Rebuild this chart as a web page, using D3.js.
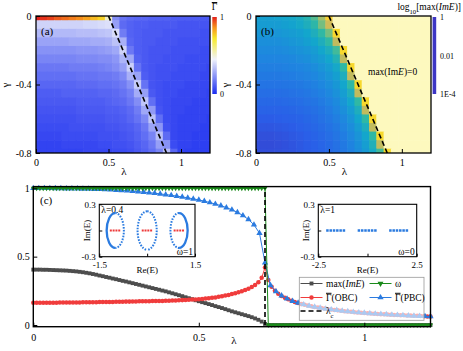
<!DOCTYPE html>
<html lang="en">
<head>
<meta charset="UTF-8" />
<title>Phase diagram and spectra</title>
<style>
  body { margin: 0; background: #fff; }
  svg { display: block; font-family: 'Liberation Serif', 'Times New Roman', 'DejaVu Serif', serif; }
</style>
</head>
<body>
<svg id="svg" width="463" height="351"></svg>
<script src="https://d3js.org/d3.v7.min.js"></script>
<script>
// ---- heatmap grid (panels a, b) ----
const lambdaCols = [0,0.05,0.1,0.15,0.2,0.25,0.3,0.35,0.4,0.45,0.5,0.55,0.6,0.65,0.7,0.75,0.8,0.85,0.9,0.95,1,1.05,1.1,1.15,1.2];
const gammaRows = [0,-0.05,-0.1,-0.15,-0.2,-0.25,-0.3,-0.35,-0.4,-0.45,-0.5,-0.55,-0.6,-0.65,-0.7,-0.75,-0.8];

// mean Gamma, one row per gamma value
const gammaBar = [
  [1.00,0.98,0.96,0.93,0.91,0.89,0.87,0.84,0.80,0.76,0.52,0.22,0.16,0.14,0.13,0.13,0.12,0.12,0.12,0.11,0.11,0.11,0.11,0.10,0.10],
  [0.38,0.38,0.38,0.38,0.38,0.38,0.38,0.39,0.39,0.40,0.41,0.26,0.14,0.12,0.11,0.11,0.10,0.10,0.10,0.10,0.09,0.09,0.09,0.09,0.09],
  [0.32,0.32,0.32,0.32,0.32,0.32,0.33,0.33,0.33,0.34,0.35,0.40,0.18,0.12,0.11,0.10,0.10,0.10,0.09,0.09,0.09,0.09,0.09,0.08,0.08],
  [0.27,0.27,0.27,0.27,0.27,0.28,0.28,0.28,0.29,0.29,0.30,0.34,0.30,0.13,0.11,0.10,0.10,0.09,0.09,0.09,0.08,0.08,0.08,0.08,0.08],
  [0.23,0.23,0.23,0.23,0.23,0.23,0.24,0.24,0.24,0.25,0.26,0.28,0.38,0.17,0.11,0.10,0.09,0.09,0.09,0.08,0.08,0.08,0.08,0.07,0.07],
  [0.20,0.20,0.20,0.20,0.20,0.20,0.21,0.21,0.21,0.22,0.22,0.24,0.31,0.28,0.12,0.10,0.09,0.09,0.08,0.08,0.08,0.07,0.07,0.07,0.07],
  [0.17,0.17,0.17,0.17,0.17,0.18,0.18,0.18,0.18,0.19,0.20,0.22,0.26,0.37,0.16,0.10,0.09,0.08,0.08,0.08,0.07,0.07,0.07,0.07,0.06],
  [0.15,0.15,0.15,0.15,0.15,0.15,0.16,0.16,0.16,0.17,0.17,0.18,0.21,0.30,0.27,0.11,0.09,0.08,0.08,0.07,0.07,0.07,0.07,0.06,0.06],
  [0.13,0.13,0.13,0.13,0.13,0.13,0.14,0.14,0.14,0.15,0.15,0.16,0.18,0.23,0.36,0.16,0.09,0.08,0.07,0.07,0.07,0.06,0.06,0.06,0.06],
  [0.11,0.11,0.11,0.11,0.12,0.12,0.12,0.12,0.12,0.13,0.13,0.14,0.16,0.19,0.29,0.26,0.10,0.08,0.07,0.07,0.06,0.06,0.06,0.06,0.05],
  [0.10,0.10,0.10,0.10,0.10,0.10,0.11,0.11,0.11,0.11,0.12,0.13,0.14,0.17,0.22,0.35,0.15,0.08,0.07,0.06,0.06,0.06,0.05,0.05,0.05],
  [0.09,0.09,0.09,0.09,0.09,0.09,0.10,0.10,0.10,0.10,0.11,0.11,0.12,0.14,0.18,0.28,0.25,0.09,0.07,0.06,0.06,0.05,0.05,0.05,0.05],
  [0.08,0.08,0.08,0.08,0.08,0.08,0.09,0.09,0.09,0.09,0.10,0.10,0.11,0.13,0.16,0.21,0.34,0.15,0.07,0.06,0.05,0.05,0.05,0.05,0.04],
  [0.07,0.07,0.07,0.07,0.07,0.08,0.08,0.08,0.08,0.08,0.09,0.09,0.10,0.11,0.13,0.17,0.27,0.24,0.08,0.06,0.05,0.05,0.05,0.04,0.04],
  [0.06,0.06,0.06,0.06,0.07,0.07,0.07,0.07,0.07,0.08,0.08,0.08,0.09,0.10,0.12,0.15,0.20,0.33,0.14,0.06,0.05,0.05,0.04,0.04,0.04],
  [0.05,0.05,0.05,0.05,0.06,0.06,0.06,0.06,0.06,0.07,0.07,0.08,0.08,0.09,0.11,0.13,0.17,0.26,0.23,0.07,0.05,0.05,0.04,0.04,0.04],
  [0.05,0.05,0.05,0.05,0.05,0.05,0.05,0.06,0.06,0.06,0.06,0.07,0.07,0.08,0.10,0.12,0.15,0.20,0.33,0.13,0.05,0.04,0.04,0.04,0.04]
];

// log10 max(Im E); cells past the end of a row have max(Im E) = 0
const logMaxImE = [
  [-1.4,-1.4,-1.4,-1.45,-1.5,-1.55,-1.65,-1.85,-2.2,-2.7,-3.6],
  [-1.35,-1.35,-1.35,-1.35,-1.4,-1.45,-1.55,-1.7,-1.95,-2.4,-3.0],
  [-1.25,-1.25,-1.25,-1.25,-1.3,-1.35,-1.4,-1.5,-1.7,-2.0,-2.4,-3.7],
  [-1.15,-1.15,-1.15,-1.15,-1.2,-1.25,-1.3,-1.4,-1.5,-1.7,-2.0,-2.9],
  [-1.08,-1.08,-1.08,-1.08,-1.1,-1.15,-1.2,-1.25,-1.35,-1.5,-1.7,-2.1,-3.7],
  [-1.0,-1.0,-1.0,-1.0,-1.02,-1.05,-1.1,-1.15,-1.25,-1.35,-1.5,-1.8,-2.9],
  [-0.92,-0.92,-0.92,-0.92,-0.95,-0.98,-1.0,-1.05,-1.12,-1.22,-1.35,-1.55,-2.0,-3.7],
  [-0.85,-0.85,-0.85,-0.85,-0.87,-0.9,-0.93,-0.97,-1.03,-1.12,-1.24,-1.4,-1.7,-2.9],
  [-0.78,-0.78,-0.78,-0.78,-0.8,-0.82,-0.85,-0.9,-0.95,-1.03,-1.13,-1.28,-1.5,-2.0,-3.7],
  [-0.7,-0.7,-0.7,-0.7,-0.72,-0.75,-0.78,-0.82,-0.88,-0.95,-1.05,-1.18,-1.38,-1.7,-2.9],
  [-0.63,-0.63,-0.63,-0.63,-0.65,-0.68,-0.7,-0.75,-0.8,-0.87,-0.96,-1.08,-1.25,-1.5,-2.0,-3.7],
  [-0.56,-0.56,-0.56,-0.56,-0.58,-0.6,-0.64,-0.68,-0.73,-0.8,-0.88,-1.0,-1.15,-1.35,-1.7,-2.9],
  [-0.48,-0.48,-0.48,-0.5,-0.52,-0.54,-0.57,-0.62,-0.67,-0.74,-0.82,-0.92,-1.05,-1.22,-1.5,-2.0,-3.7],
  [-0.4,-0.4,-0.4,-0.42,-0.45,-0.48,-0.52,-0.56,-0.62,-0.68,-0.76,-0.85,-0.97,-1.12,-1.35,-1.7,-2.9],
  [-0.33,-0.32,-0.32,-0.35,-0.38,-0.42,-0.46,-0.51,-0.57,-0.63,-0.7,-0.79,-0.9,-1.04,-1.22,-1.5,-2.0,-3.7],
  [-0.3,-0.28,-0.28,-0.3,-0.33,-0.37,-0.42,-0.47,-0.53,-0.59,-0.66,-0.74,-0.85,-0.98,-1.15,-1.38,-1.75,-2.9],
  [-0.32,-0.3,-0.3,-0.32,-0.35,-0.38,-0.42,-0.47,-0.52,-0.58,-0.65,-0.73,-0.83,-0.95,-1.1,-1.3,-1.6,-2.1,-3.7]
];

// critical line lambda_c(gamma)
const critLambda = [0.5, 0.9];
const critGamma = [0, -0.8];

// ---- panel c ----
const lambdaFine = d3.range(121).map(k => k / 100);
const maxImE = [
  0.405,0.405,0.405,0.404,0.404,0.403,0.402,0.401,0.400,0.399,
  0.398,0.396,0.394,0.392,0.389,0.386,0.382,0.378,0.373,0.368,
  0.362,0.357,0.351,0.346,0.340,0.335,0.329,0.323,0.318,0.312,
  0.306,0.300,0.294,0.288,0.282,0.276,0.270,0.264,0.258,0.252,
  0.246,0.239,0.232,0.225,0.218,0.211,0.203,0.196,0.189,0.181,
  0.174,0.167,0.160,0.153,0.146,0.138,0.131,0.124,0.116,0.108,
  0.100,0.093,0.086,0.079,0.072,0.065,0.057,0.048,0.038,0.025,
  0.008,
  0,0,0,0,0,0,0,0,0,0, 0,0,0,0,0,0,0,0,0,0, 0,0,0,0,0,0,0,0,0,0,
  0,0,0,0,0,0,0,0,0,0, 0,0,0,0,0,0,0,0,0,0
];
const gammaOBC = [
  0.163,0.163,0.163,0.163,0.163,0.163,0.163,0.163,0.164,0.164,
  0.164,0.164,0.165,0.165,0.165,0.166,0.166,0.166,0.167,0.167,
  0.168,0.168,0.168,0.169,0.169,0.170,0.170,0.170,0.171,0.171,
  0.172,0.172,0.173,0.173,0.174,0.174,0.175,0.175,0.176,0.176,
  0.177,0.178,0.179,0.180,0.181,0.182,0.183,0.184,0.186,0.187,
  0.189,0.191,0.193,0.196,0.199,0.202,0.206,0.210,0.215,0.220,
  0.226,0.232,0.239,0.247,0.256,0.266,0.278,0.293,0.312,0.345,
  0.420,
  0.330,0.280,0.250,0.228,0.213,0.200,0.188,0.178,0.169,0.161,
  0.154,0.148,0.142,0.137,0.132,0.128,0.124,0.120,0.116,0.113,
  0.110,0.107,0.104,0.101,0.099,0.097,0.094,0.092,0.090,0.088,
  0.086,0.084,0.083,0.081,0.079,0.078,0.077,0.075,0.074,0.073,
  0.072,0.071,0.070,0.069,0.068,0.067,0.066,0.064,0.063,0.062
];
const omega = [
  1,1,1,1,1,1,1,1,1,1, 1,1,1,1,1,1,1,1,1,1, 1,1,1,1,1,1,1,1,1,1,
  1,1,1,1,1,1,1,1,1,1, 1,1,1,1,1,1,1,1,1,1, 1,1,1,1,1,1,1,1,1,1,
  1,1,1,1,1,1,1,1,1,1, 1,
  0,0,0,0,0,0,0,0,0,0, 0,0,0,0,0,0,0,0,0,0, 0,0,0,0,0,0,0,0,0,0,
  0,0,0,0,0,0,0,0,0,0, 0,0,0,0,0,0,0,0,0,0
];
const lambdaPBC = d3.range(73).map(k => k / 60);
const gammaPBC = [
  1.000,1.000,1.000,1.000,0.999,0.999,0.998,0.998,0.997,0.996,
  0.995,0.994,0.993,0.991,0.989,0.987,0.985,0.982,0.979,0.976,
  0.972,0.968,0.964,0.959,0.954,0.949,0.943,0.937,0.930,0.923,
  0.915,0.906,0.896,0.885,0.873,0.859,0.843,0.824,0.801,0.772,
  0.733,0.672,0.455,0.290,0.245,0.215,0.192,0.175,0.161,0.150,
  0.140,0.132,0.125,0.118,0.113,0.108,0.103,0.099,0.095,0.091,
  0.088,0.085,0.082,0.080,0.077,0.075,0.073,0.071,0.069,0.067,
  0.065,0.064,0.062
];
const lambdaC = 0.7;

// insets: spectra in the complex plane
const loopCenters = [-1, 0, 1];
const loopRe = [0.27, 0.3, 0.27];
const loopIm = [0.2, 0.22, 0.2];
const obcHalfWidth = 0.17;
const bandLow = [-2.1, -0.5, 1.1];
const bandHigh = [-1.1, 0.5, 2.1];

const svg = d3.select('#svg');
const FONT = "'Liberation Serif', 'Times New Roman', 'DejaVu Serif', serif";

function styleAxis(g, fs) {
  g.attr('font-family', FONT).attr('font-size', fs);
  g.select('.domain').remove();
  g.selectAll('line').attr('stroke', '#000').attr('stroke-width', 1);
  g.selectAll('text').attr('fill', '#000');
}

function addText(parent, x, y, parts, opts = {}) {
  const t = parent.append('text').attr('x', x).attr('y', y)
    .attr('font-size', opts.size || 10).attr('font-family', FONT)
    .attr('text-anchor', opts.anchor || 'start');
  if (opts.rotate) t.attr('transform', `rotate(${opts.rotate},${x},${y})`);
  parts.forEach(p => {
    if (typeof p === 'string') { t.append('tspan').text(p); return; }
    const s = t.append('tspan').text(p.t);
    if (p.it) s.attr('font-style', 'italic');
    if (p.sub) s.attr('baseline-shift', 'sub').attr('font-size', (opts.size || 10) * 0.7);
    if (p.bar) s.attr('text-decoration', 'overline');
  });
  return t;
}

// ---- colour scales ----
const colorA = d3.scaleLinear()
  .domain([0, 0.45, 0.72, 0.86, 1])
  .range(['#1a2df0', '#f0f2fb', '#f7ea2a', '#f7961c', '#e2211c']);
const parula = ['#3d36c4','#2a5ee8','#1f85e0','#13a6cc','#30b8a4','#86c077','#d0ba58','#f8c83a','#f6f01a'];
const colorB = d3.scaleLinear().domain(d3.range(9).map(i => -i * 0.5)).range(parula);
const zeroColor = '#fdf9be';

const defs = svg.append('defs');

function heatPanel(x0, x1, id, fillFor, label) {
  const x = d3.scaleLinear().domain([0, 1.2]).range([x0, x1]);
  const y = d3.scaleLinear().domain([-0.8, 0]).range([153, 16]);
  defs.append('clipPath').attr('id', id).append('rect')
    .attr('x', x(0)).attr('y', y(0)).attr('width', x(1.2) - x(0)).attr('height', y(-0.8) - y(0));
  const g = svg.append('g');
  const cells = [];
  gammaRows.forEach((gm, i) => lambdaCols.forEach((lm, j) => cells.push({ i, j, lm, gm })));
  g.append('g').attr('clip-path', `url(#${id})`)
    .selectAll('rect').data(cells).join('rect')
    .attr('x', d => x(d.lm - 0.025))
    .attr('y', d => y(d.gm + 0.025))
    .attr('width', x(0.05) - x(0) + 0.6)
    .attr('height', y(-0.05) - y(0) + 0.6)
    .attr('fill', d => fillFor(d.i, d.j));
  // critical line
  g.append('path')
    .attr('d', d3.line().x((d, k) => x(critLambda[k])).y(d => y(d))(critGamma))
    .attr('stroke', '#000').attr('stroke-width', 1.6).attr('stroke-dasharray', '5,3').attr('fill', 'none');
  g.append('rect').attr('x', x(0)).attr('y', y(0)).attr('width', x(1.2) - x(0)).attr('height', y(-0.8) - y(0))
    .attr('fill', 'none').attr('stroke', '#000').attr('stroke-width', 1.3);
  const ax = g.append('g').attr('transform', `translate(0,${y(-0.8)})`)
    .call(d3.axisBottom(x).tickValues([0, 0.5, 1]).tickSize(-4).tickPadding(6).tickFormat(d => String(d)));
  styleAxis(ax, 10);
  const ay = g.append('g').attr('transform', `translate(${x(0)},0)`)
    .call(d3.axisLeft(y).tickValues([0, -0.4, -0.8]).tickSize(-4).tickPadding(4.5).tickFormat(d => String(d)));
  styleAxis(ay, 10);
  addText(g, x(0) + 5, 35, [label], { size: 11 });
  addText(g, (x0 + x1) / 2 + 1, 175, ['λ'], { size: 11, anchor: 'middle' });
  addText(g, x0 - 27, 85, ['γ'], { size: 11, anchor: 'middle', rotate: -90 });
  return { x, y, g };
}

heatPanel(36, 210, 'clipA', (i, j) => colorA(gammaBar[i][j]), '(a)');
heatPanel(256, 431, 'clipB', (i, j) => {
  const v = logMaxImE[i][j];
  return v === undefined ? zeroColor : colorB(v);
}, '(b)');
addText(svg, 368, 75, ['max(Im', { t: 'E', it: true }, ')=0'], { size: 9.5 });

// colourbar (a)
const gradA = defs.append('linearGradient').attr('id', 'gradA').attr('x1', 0).attr('y1', 1).attr('x2', 0).attr('y2', 0);
colorA.domain().forEach(v => gradA.append('stop').attr('offset', v).attr('stop-color', colorA(v)));
const cbA = d3.scaleLinear().domain([0, 1]).range([94, 17]);
svg.append('rect').attr('x', 212.3).attr('y', cbA(1)).attr('width', 4.5).attr('height', cbA(0) - cbA(1)).attr('fill', 'url(#gradA)');
[0, 1].forEach(v => addText(svg, 220, cbA(v) + 3, [String(v)], { size: 8 }));
addText(svg, 214.5, 10, [{ t: 'Γ', bar: true }], { size: 9.5, anchor: 'middle' });

// colourbar (b)
const gradB = defs.append('linearGradient').attr('id', 'gradB').attr('x1', 0).attr('y1', 1).attr('x2', 0).attr('y2', 0);
colorB.domain().forEach(v => gradB.append('stop').attr('offset', (v + 4) / 4).attr('stop-color', colorB(v)));
const cbB = d3.scaleLinear().domain([-4, 0]).range([94, 17]);
svg.append('rect').attr('x', 432.6).attr('y', cbB(0)).attr('width', 3.6).attr('height', cbB(-4) - cbB(0)).attr('fill', 'url(#gradB)');
[[0, '1'], [-2, '0.01'], [-4, '1E-4']].forEach(([v, s]) => addText(svg, 440, cbB(v) + 3, [s], { size: 8 }));
addText(svg, 461, 10, ['log', { t: '10', sub: true }, '[max(', { t: 'ImE', it: true }, ')]'], { size: 9.5, anchor: 'end' });

// ---- panel (c) ----
const xC = d3.scaleLinear().domain([0, 1.2]).range([33.3, 430.5]);
const yC = d3.scaleLinear().domain([0, 1]).range([325, 188.3]);
const gC = svg.append('g');

function series(xs, ys, color, symbol, size, rot) {
  gC.append('path').attr('d', d3.line().x((d, i) => xC(xs[i])).y(d => yC(d))(ys))
    .attr('fill', 'none').attr('stroke', color).attr('stroke-width', 1);
  gC.append('g').selectAll('path').data(ys).join('path')
    .attr('transform', (d, i) => `translate(${xC(xs[i])},${yC(d)}) rotate(${rot})`)
    .attr('d', d3.symbol(symbol, size)).attr('fill', color);
}
series(lambdaFine, maxImE, '#4d4d4d', d3.symbolSquare, 15, 0);
series(lambdaFine, gammaOBC, '#f03c3c', d3.symbolCircle, 16, 0);
series(lambdaPBC, gammaPBC, '#2b7be0', d3.symbolTriangle, 17, 0);
series(lambdaFine, omega, '#1a8a1a', d3.symbolTriangle, 11, 180);

gC.append('line').attr('x1', xC(lambdaC)).attr('x2', xC(lambdaC)).attr('y1', yC(0)).attr('y2', yC(1))
  .attr('stroke', '#000').attr('stroke-width', 1.6).attr('stroke-dasharray', '5,3');

gC.append('rect').attr('x', xC(0)).attr('y', yC(1.0125)).attr('width', xC(1.2) - xC(0)).attr('height', yC(-0.0125) - yC(1.0125))
  .attr('fill', 'none').attr('stroke', '#000').attr('stroke-width', 1.4);
const axC = gC.append('g').attr('transform', `translate(0,${yC(-0.0125)})`)
  .call(d3.axisBottom(xC).tickValues([0, 0.5, 1]).tickSize(-4).tickPadding(7).tickFormat(d => String(d)));
styleAxis(axC, 10);
const ayC = gC.append('g').attr('transform', `translate(${xC(0)},0)`)
  .call(d3.axisLeft(yC).tickValues([0, 0.5, 1]).tickSize(-4).tickPadding(3.5).tickFormat(d => String(d)));
styleAxis(ayC, 10);
addText(gC, 40, 204, ['(c)'], { size: 11 });
addText(gC, 234, 344, ['λ'], { size: 11, anchor: 'middle' });

// insets
function inset(x0, x1, xDom, tag, wLabel) {
  const x = d3.scaleLinear().domain(xDom).range([x0, x1]);
  const y = d3.scaleLinear().domain([-0.3, 0.3]).range([256.7, 204.3]);
  const g = svg.append('g');
  g.append('rect').attr('x', x0).attr('y', y(0.3)).attr('width', x1 - x0).attr('height', y(-0.3) - y(0.3))
    .attr('fill', '#fff').attr('stroke', '#000').attr('stroke-width', 1.1);
  const ax = g.append('g').attr('transform', `translate(0,${y(-0.3)})`)
    .call(d3.axisBottom(x).tickValues([xDom[0], 0, xDom[1]]).tickSize(-3).tickPadding(5)
      .tickFormat(d => d === 0 ? '' : String(d)));
  styleAxis(ax, 9);
  const ay = g.append('g').attr('transform', `translate(${x0},0)`)
    .call(d3.axisLeft(y).tickValues([-0.3, 0, 0.3]).tickSize(-3).tickPadding(3.5)
      .tickFormat(d => d === 0 ? '' : String(d)));
  styleAxis(ay, 9);
  addText(g, (x0 + x1) / 2, 273, ['Re(E)'], { size: 9, anchor: 'middle' });
  addText(g, x0 - 9, y(0), ['Im(E)'], { size: 9, anchor: 'middle', rotate: -90 });
  addText(g, x0 + 2, 213, [tag], { size: 9.5 });
  addText(g, x1 - 2, 255, [wLabel], { size: 9.5, anchor: 'end' });
  return { x, y, g };
}

const in1 = inset(99.3, 195, [-1.5, 1.5], 'λ=0.4', 'ω=1');
loopCenters.forEach((c, k) => {
  const cx = in1.x(c), cy = in1.y(0);
  const rx = in1.x(c + loopRe[k]) - cx, ry = cy - in1.y(loopIm[k]);
  const leftSolid = k === 0, rightSolid = k === loopCenters.length - 1;
  [[0, leftSolid], [1, rightSolid]].forEach(([sweep, solid]) => {
    in1.g.append('path')
      .attr('d', `M${cx},${cy - ry} A${rx},${ry} 0 0 ${sweep} ${cx},${cy + ry}`)
      .attr('fill', 'none').attr('stroke', '#2b7be0').attr('stroke-width', solid ? 2.3 : 2)
      .attr('stroke-dasharray', solid ? null : '1.6,1.3');
  });
  in1.g.append('line').attr('x1', in1.x(c - obcHalfWidth)).attr('x2', in1.x(c + obcHalfWidth))
    .attr('y1', cy).attr('y2', cy).attr('stroke', '#ee3a3a').attr('stroke-width', 2.2).attr('stroke-dasharray', '2,0.8');
});

const in2 = inset(318.3, 416.7, [-2.5, 2.5], 'λ=1', 'ω=0');
bandLow.forEach((lo, k) => {
  in2.g.append('line').attr('x1', in2.x(lo)).attr('x2', in2.x(bandHigh[k]))
    .attr('y1', in2.y(0)).attr('y2', in2.y(0))
    .attr('stroke', '#2b7be0').attr('stroke-width', 2.4).attr('stroke-dasharray', '2.5,0.8');
});

// legend
const lg = svg.append('g');
lg.append('rect').attr('x', 299.3).attr('y', 277.3).attr('width', 124.7).attr('height', 43)
  .attr('fill', '#fff').attr('fill-opacity', 0.6).attr('stroke', '#999').attr('stroke-width', 0.8);
const legendItems = [
  { x: 300.5, y: 283.5, color: '#4d4d4d', sym: d3.symbolSquare, size: 15, rot: 0, text: ['max(', { t: 'ImE', it: true }, ')'] },
  { x: 369.5, y: 283.5, color: '#1a8a1a', sym: d3.symbolTriangle, size: 15, rot: 180, text: ['ω'] },
  { x: 300.5, y: 297.5, color: '#f03c3c', sym: d3.symbolCircle, size: 16, rot: 0, text: [{ t: 'Γ', bar: true }, '(OBC)'] },
  { x: 369.5, y: 297.5, color: '#2b7be0', sym: d3.symbolTriangle, size: 17, rot: 0, text: [{ t: 'Γ', bar: true }, '(PBC)'] },
  { x: 300.5, y: 311, color: '#000', sym: null, text: ['λ', { t: 'c', sub: true }] }
];
legendItems.forEach(it => {
  lg.append('line').attr('x1', it.x).attr('x2', it.x + 22).attr('y1', it.y).attr('y2', it.y)
    .attr('stroke', it.color).attr('stroke-width', it.sym ? 1 : 1.6).attr('stroke-dasharray', it.sym ? null : '5,3');
  if (it.sym) {
    lg.append('path').attr('transform', `translate(${it.x + 11},${it.y}) rotate(${it.rot})`)
      .attr('d', d3.symbol(it.sym, it.size)).attr('fill', it.color);
  }
  addText(lg, it.x + 25.5, it.y + 3.3, it.text, { size: 9.5 });
});
</script>
</body>
</html>
